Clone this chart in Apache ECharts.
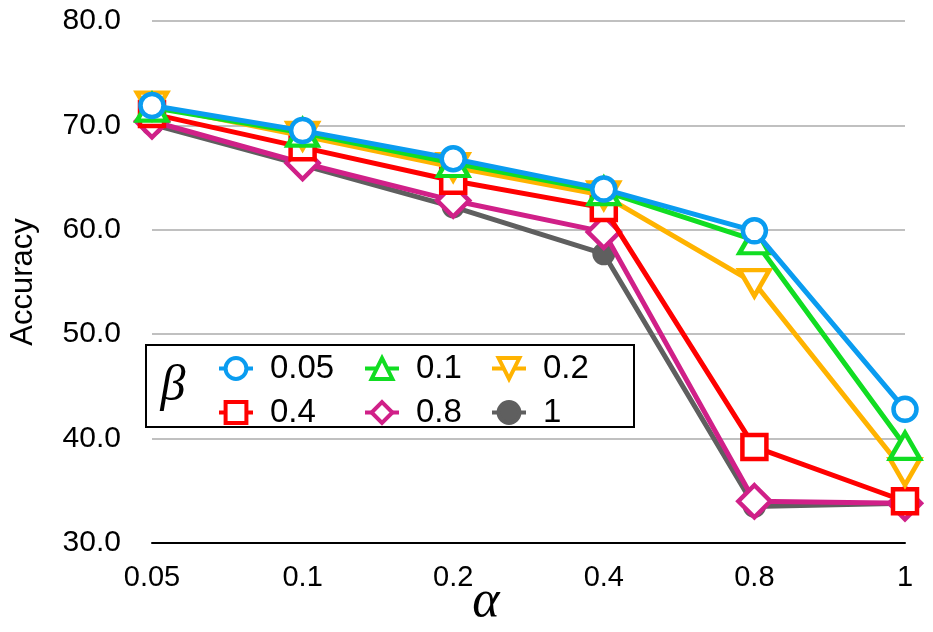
<!DOCTYPE html>
<html lang="en">
<head>
<meta charset="UTF-8">
<title>Accuracy vs alpha</title>
<script src="https://cdn.jsdelivr.net/npm/echarts@6/dist/echarts.min.js"></script>
<style>
  html, body { margin: 0; padding: 0; background: #fff; }
  #chart { width: 933px; height: 632px; }
</style>
</head>
<body>
<div id="chart"></div>
<script>
// alpha values on the x axis
var alphas = ['0.05', '0.1', '0.2', '0.4', '0.8', '1'];
var betas = ['0.05', '0.1', '0.2', '0.4', '0.8', '1'];

// accuracy for each beta
var acc005 = [71.9, 69.5, 66.8, 63.9, 59.9, 42.8];
var acc01  = [71.7, 69.3, 66.4, 63.7, 59.0, 39.3];
var acc02  = [71.9, 69.0, 66.0, 63.3, 54.9, 36.8];
var acc04  = [71.1, 67.9, 64.7, 62.1, 39.2, 34.0];
var acc08  = [70.4, 66.4, 62.8, 59.8, 34.0, 33.8];
var acc1   = [70.1, 66.2, 62.2, 57.7, 33.5, 33.8];

var yTicks = [30, 40, 50, 60, 70, 80];

var chart = echarts.init(document.getElementById('chart'));

var sans = '"Liberation Sans", Arial, Helvetica, sans-serif';

function mkSeries(name, data, color, symbol, size, z, filled) {
    return {
        name: name,
        type: 'line',
        data: data,
        z: z,
        symbol: symbol,
        symbolSize: size,
        showAllSymbol: true,
        lineStyle: { color: color, width: 5 },
        itemStyle: {
            color: filled ? color : '#fff',
            borderColor: color,
            borderWidth: filled ? 0 : 4.5
        },
        emphasis: { disabled: true },
        animation: false
    };
}

var tri = 'path://M0,-10 L10,8 L-10,8 Z';
var triDown = 'path://M0,10 L10,-8 L-10,-8 Z';

function colLegend(left, names) {
    return {
        orient: 'vertical',
        left: left,
        top: 352,
        padding: 0,
        itemGap: 11,
        itemWidth: 34,
        itemHeight: 26,
        data: names,
        selectedMode: false,
        itemStyle: { borderWidth: 4 },
        lineStyle: { width: 4 },
        textStyle: {
            fontSize: 33,
            lineHeight: 30,
            color: '#000',
            fontFamily: sans,
            padding: [0, 0, 0, 12]
        }
    };
}

var option = {
    backgroundColor: '#fff',
    grid: { left: 145, right: 28, top: 21, bottom: 89 },
    xAxis: {
        type: 'category',
        data: alphas,
        boundaryGap: false,
        axisLine: { lineStyle: { color: '#000', width: 2 } },
        axisTick: { show: false },
        axisLabel: {
            fontSize: 29,
            color: '#000',
            margin: 20,
            fontFamily: sans
        },
        splitLine: { show: false }
    },
    yAxis: {
        type: 'value',
        min: yTicks[0],
        max: yTicks[yTicks.length - 1],
        interval: 10,
        name: 'Accuracy',
        nameLocation: 'middle',
        nameRotate: 90,
        nameGap: 113,
        nameTextStyle: { fontSize: 31, color: '#000', fontFamily: sans },
        axisLine: { show: false },
        axisTick: { show: false },
        axisLabel: {
            fontSize: 30,
            color: '#000',
            margin: 31,
            fontFamily: sans,
            formatter: function (v) { return v.toFixed(1); }
        },
        splitLine: { lineStyle: { color: '#c0c0c0', width: 2 } }
    },
    legend: [
        colLegend(217, ['0.05', '0.4']),
        colLegend(363, ['0.1', '0.8']),
        colLegend(490, ['0.2', '1'])
    ],
    graphic: [
        {
            type: 'rect',
            z: 3,
            shape: { x: 146, y: 345, width: 488, height: 82 },
            style: { fill: '#fff', stroke: '#000', lineWidth: 2 }
        },
        {
            type: 'text',
            z: 5,
            x: 173,
            y: 387,
            style: {
                text: 'β',
                font: 'italic 50px "Liberation Serif", "DejaVu Serif", serif',
                fill: '#000',
                align: 'center',
                verticalAlign: 'middle'
            }
        },
        {
            type: 'text',
            z: 5,
            x: 486,
            y: 602,
            style: {
                text: 'α',
                font: 'italic 52px "Liberation Serif", "DejaVu Serif", serif',
                fill: '#000',
                align: 'center',
                verticalAlign: 'middle'
            }
        }
    ],
    series: [
        mkSeries(betas[0], acc005, '#0a9cf0', 'circle', 23, 8, false),
        mkSeries(betas[1], acc01, '#11dd22', tri, [30, 26], 7, false),
        mkSeries(betas[2], acc02, '#ffb300', triDown, [30, 26], 6, false),
        mkSeries(betas[3], acc04, '#ff0000', 'rect', 24, 5, false),
        mkSeries(betas[4], acc08, '#d02088', 'diamond', 32, 4, false),
        mkSeries(betas[5], acc1, '#5f5f5f', 'circle', 23, 3, true)
    ]
};

chart.setOption(option);
</script>
</body>
</html>
